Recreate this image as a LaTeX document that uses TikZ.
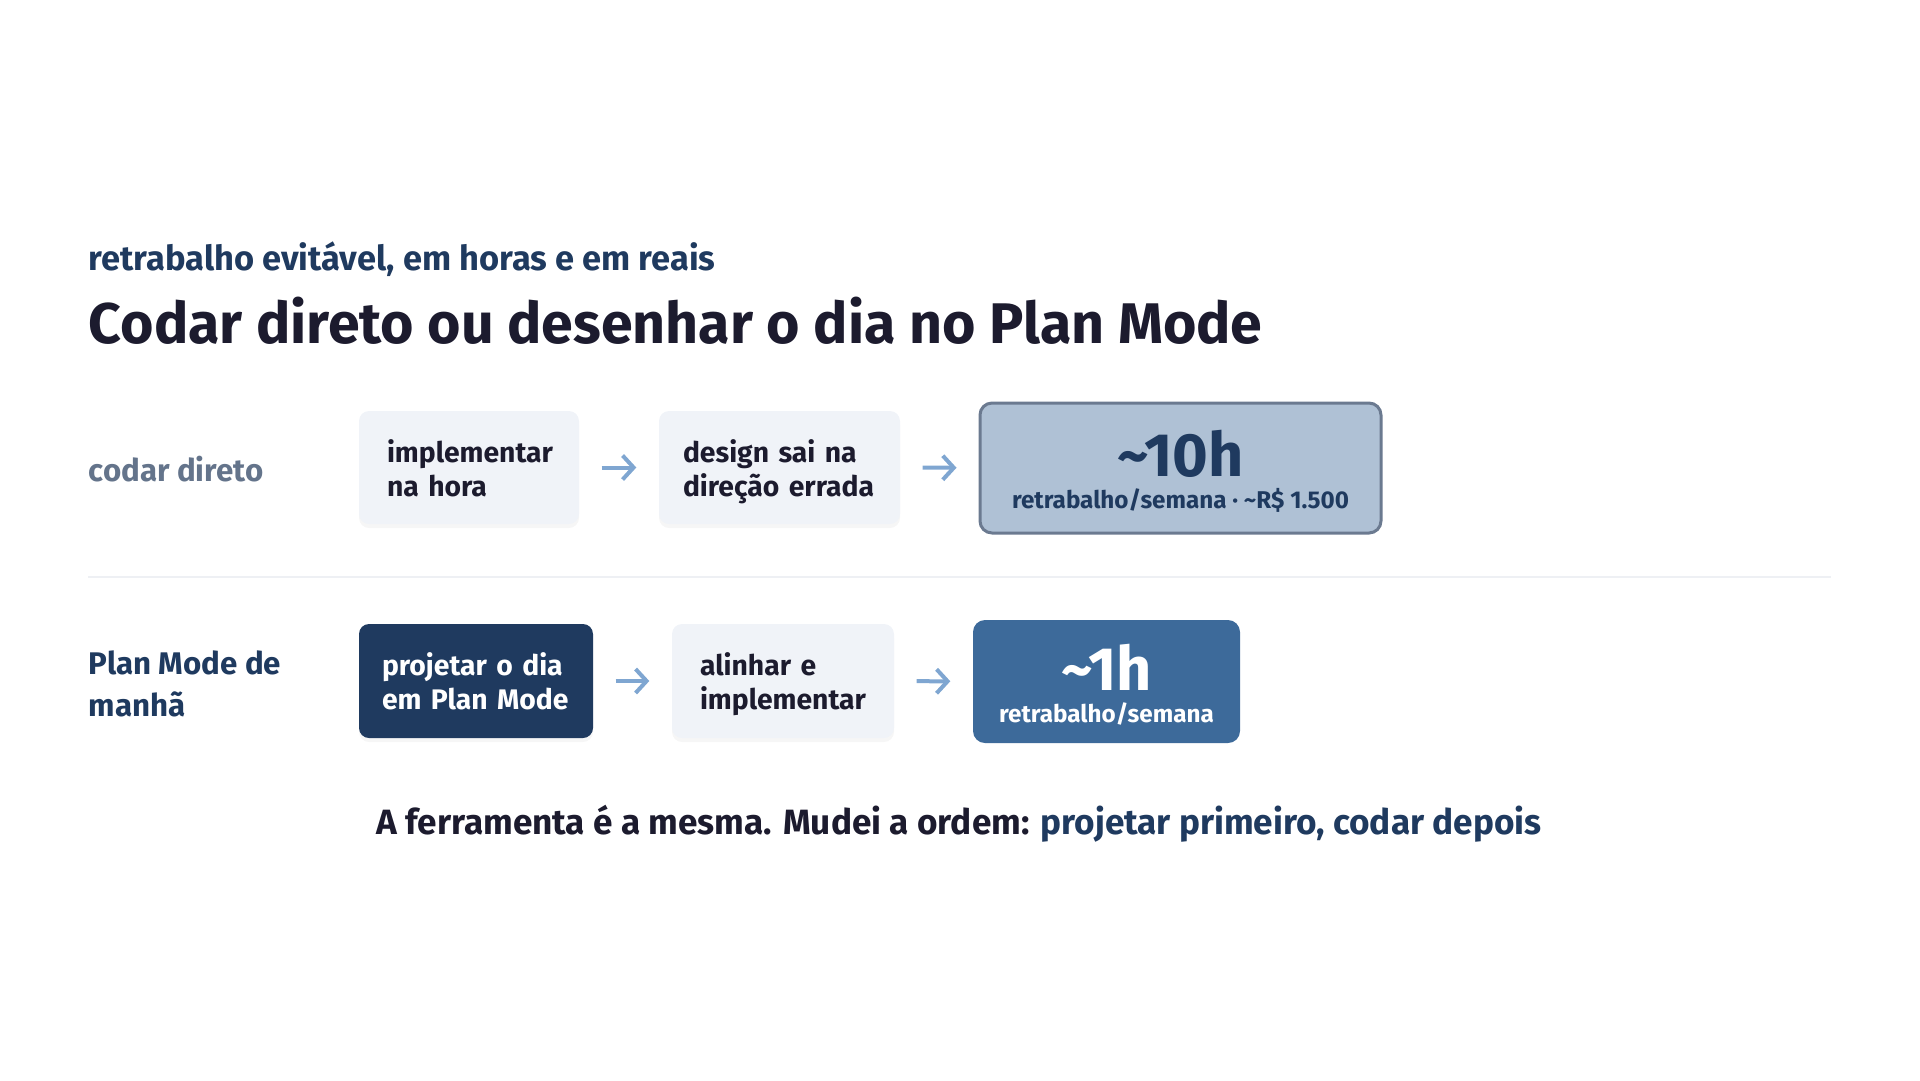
\documentclass[tikz,border=0pt]{standalone}
\usepackage{fontspec}
\setmainfont{Fira Sans}
\usetikzlibrary{arrows.meta,shadows}
\definecolor{ink}{HTML}{1C1B2E}
\definecolor{navy}{HTML}{1F3A5F}
\definecolor{slate}{HTML}{64748B}
\definecolor{boxgray}{HTML}{F0F3F8}
\definecolor{costfill}{HTML}{AFC1D5}
\definecolor{costline}{HTML}{6B7A90}
\definecolor{gainfill}{HTML}{3D6A9A}
\definecolor{arrowblue}{HTML}{7FA6D1}
\definecolor{rule}{HTML}{EEF0F4}
\begin{document}
\begin{tikzpicture}[x=0.1mm,y=-0.1mm,
  stepbox/.style={rounded corners=1mm,fill=boxgray,text=ink,align=left,
    inner xsep=2.8mm,minimum height=11.3mm,
    font=\fontsize{8.05}{9.7}\selectfont\bfseries,
    execute at begin node=\rule{0pt}{9.6pt},execute at end node=\strut,
    drop shadow={opacity=0.07,shadow xshift=0mm,shadow yshift=-0.4mm}},
  flow/.style={-{Straight Barb[length=1.1mm,width=2.4mm]},line width=0.4mm,
    draw=arrowblue,shorten <=2.2mm,shorten >=2.2mm},
  rowlabel/.style={anchor=west,align=left,inner sep=0pt,
    font=\fontsize{8.9}{11.9}\selectfont\bfseries}]
\useasboundingbox (0,0) rectangle (1920,1080);
% heading
\node[anchor=base west,inner sep=0pt,text=navy,font=\fontsize{9.8}{12}\selectfont\bfseries]
  (kicker) at (88,270) {retrabalho evitável, em horas e em reais};
\node[anchor=base west,inner sep=0pt,text=ink,font=\fontsize{16.3}{19}\selectfont\bfseries]
  (title) at (88,343) {Codar direto ou desenhar o dia no Plan Mode};
% first row
\node[rowlabel,text=slate] (direct) at (88,469) {codar direto};
\node[stepbox,text width=16.4mm] (impl) at (469,467.5) {implementar\\na hora};
\node[stepbox,inner xsep=2.4mm,text width=19.3mm] (design) at (779.5,467.5) {design sai na\\direção errada};
\node[rounded corners=1.2mm,fill=costfill,draw=costline,line width=0.3mm,
  minimum width=40.1mm,minimum height=13mm,align=center,text=navy] (cost) at (1180.5,468)
  {{\fontsize{17.4}{18}\selectfont\bfseries\rule{0pt}{14.95pt}\textasciitilde10h}\\[-0.97mm]
   {\fontsize{6.9}{8}\selectfont\bfseries retrabalho/semana · \textasciitilde R\$ 1.500}};
\draw[flow] (impl) -- (design);
\draw[flow] (design) -- (cost);
% divider
\draw[rule,line width=0.2mm] (88,577) -- (1831,577);
% second row
\node[rowlabel,text=navy] (plan) at (88,684) {Plan Mode de\\manhã};
\node[stepbox,fill=navy,text=white,inner xsep=2.3mm,text width=18.8mm,minimum height=11.4mm]
  (project) at (476,681) {projetar o dia\\em Plan Mode};
\node[stepbox,text width=16.6mm,minimum height=11.4mm] (align) at (783,681) {alinhar e\\implementar};
\node[rounded corners=1.2mm,fill=gainfill,minimum width=26.7mm,minimum height=12.3mm,
  align=center,text=white] (gain) at (1106.5,681.5)
  {{\fontsize{17.4}{18}\selectfont\bfseries\rule{0pt}{14.95pt}\textasciitilde1h}\\[-0.97mm]
   {\fontsize{6.9}{8}\selectfont\bfseries retrabalho/semana}};
\draw[flow] (project) -- (align);
\draw[flow] (align) -- (gain);
% closing line
\node[anchor=base,inner sep=0pt,text=ink,font=\fontsize{10}{12}\selectfont\bfseries]
  (moral) at (959,834) {A ferramenta é a mesma. Mudei a ordem: \textcolor{navy}{projetar primeiro, codar depois}};
\end{tikzpicture}
\end{document}
